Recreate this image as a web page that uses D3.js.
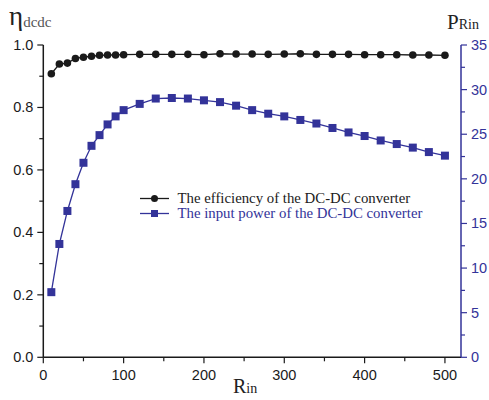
<!DOCTYPE html>
<html><head><meta charset="utf-8">
<script src="https://cdn.jsdelivr.net/npm/d3@7"></script>
<style>body{margin:0;background:#fff}svg{display:block}</style>
</head><body><svg id="c" width="489" height="400"></svg>
<script>
const rin = [10,20,30,40,50,60,70,80,90,100,120,140,160,180,200,220,240,260,280,300,320,340,360,380,400,420,440,460,480,500];
const efficiency = [0.908,0.939,0.942,0.957,0.961,0.964,0.967,0.968,0.968,0.969,0.970,0.970,0.970,0.970,0.969,0.972,0.971,0.971,0.970,0.971,0.972,0.970,0.970,0.970,0.969,0.969,0.969,0.968,0.968,0.967];
const inputPower = [7.3,12.7,16.4,19.4,21.8,23.7,24.9,26.1,27.0,27.7,28.4,29.0,29.06,29.0,28.8,28.6,28.2,27.7,27.3,27.0,26.6,26.2,25.7,25.2,24.8,24.3,23.9,23.5,23.0,22.6];
const xTicks = [0,100,200,300,400,500];
const leftTicks = [0.0,0.2,0.4,0.6,0.8,1.0];
const rightTicks = [0,5,10,15,20,25,30,35];
const legendLabels = ["The efficiency of the DC-DC converter","The input power of the DC-DC converter"];

const svg = d3.select("#c");
const blue = "#333399", black = "#1a1a1a";
const x = d3.scaleLinear().domain([0,520]).range([43.3,461]);
const yL = d3.scaleLinear().domain([0,1]).range([357.3,45]);
const yR = d3.scaleLinear().domain([0,35]).range([357.3,45]);
const tickFont = "'Liberation Sans', Arial, sans-serif";

// x axis
const gx = svg.append("g").attr("transform","translate(0,357.3)");
gx.append("line").attr("x1",x(0)).attr("x2",x(520)).attr("stroke",black).attr("stroke-width",1.5);
d3.range(0,520,50).forEach(v=>{
  const major = v%100===0;
  gx.append("line").attr("x1",x(v)).attr("x2",x(v)).attr("y1",0).attr("y2",major?6:4).attr("stroke",black).attr("stroke-width",1.2);
});
xTicks.forEach(v=>gx.append("text").attr("x",x(v)).attr("y",23).attr("text-anchor","middle")
  .attr("font-family",tickFont).attr("font-size",14.5).attr("fill",black).text(v));

// left axis
const gl = svg.append("g").attr("transform",`translate(${x(0)},0)`);
gl.append("line").attr("y1",yL(0)).attr("y2",yL(1)).attr("stroke",black).attr("stroke-width",1.5);
d3.range(0,1.01,0.1).forEach((v,i)=>{
  const major = i%2===0;
  gl.append("line").attr("x1",0).attr("x2",major?-6:-4).attr("y1",yL(v)).attr("y2",yL(v)).attr("stroke",black).attr("stroke-width",1.2);
});
leftTicks.forEach(v=>gl.append("text").attr("x",-10).attr("y",yL(v)+5).attr("text-anchor","end")
  .attr("font-family",tickFont).attr("font-size",14.5).attr("fill",black).text(v.toFixed(1)));

// right axis
const gr = svg.append("g").attr("transform",`translate(${x(520)},0)`);
gr.append("line").attr("y1",yR(0)).attr("y2",yR(35)).attr("stroke",blue).attr("stroke-width",1.5);
d3.range(0,35.1,2.5).forEach((v,i)=>{
  const major = i%2===0;
  gr.append("line").attr("x1",0).attr("x2",major?6:4).attr("y1",yR(v)).attr("y2",yR(v)).attr("stroke",blue).attr("stroke-width",1.2);
});
rightTicks.forEach(v=>gr.append("text").attr("x",10).attr("y",yR(v)+5).attr("text-anchor","start")
  .attr("font-family",tickFont).attr("font-size",14.5).attr("fill",blue).text(v));

// titles
const serif = "'Liberation Serif', 'Times New Roman', serif";
const t1 = svg.append("text").attr("x",9).attr("y",25).attr("font-family",serif).attr("fill","#222");
t1.append("tspan").attr("font-size",27).text("η");
t1.append("tspan").attr("font-size",15).attr("dy",2).attr("fill","#555").text("dcdc");
const t2 = svg.append("text").attr("x",447).attr("y",29).attr("font-family",serif).attr("fill","#222");
t2.append("tspan").attr("font-size",21).text("P");
t2.append("tspan").attr("font-size",14).text("Rin");
const t3 = svg.append("text").attr("x",233).attr("y",393).attr("font-family",serif).attr("fill","#222");
t3.append("tspan").attr("font-size",20).text("R");
t3.append("tspan").attr("font-size",14).text("in");

// series
const effData = rin.map((r,i)=>[r,efficiency[i]]);
const powData = rin.map((r,i)=>[r,inputPower[i]]);
svg.append("path").datum(effData).attr("fill","none").attr("stroke",black).attr("stroke-width",1.3)
  .attr("d",d3.line().x(d=>x(d[0])).y(d=>yL(d[1])));
svg.append("path").datum(powData).attr("fill","none").attr("stroke",blue).attr("stroke-width",1.3)
  .attr("d",d3.line().x(d=>x(d[0])).y(d=>yR(d[1])));
svg.selectAll(".pt").data(effData).enter().append("circle").attr("cx",d=>x(d[0])).attr("cy",d=>yL(d[1]))
  .attr("r",3.8).attr("fill",black);
svg.selectAll(".sq").data(powData).enter().append("rect").attr("x",d=>x(d[0])-4).attr("y",d=>yR(d[1])-4)
  .attr("width",8).attr("height",8).attr("fill",blue);

// legend
const lg = svg.append("g");
[[black,"circle"],[blue,"rect"]].forEach((s,i)=>{
  const yy = 198.5 + i*15;
  lg.append("line").attr("x1",140).attr("x2",169).attr("y1",yy).attr("y2",yy).attr("stroke",s[0]).attr("stroke-width",1.3);
  if(s[1]==="circle") lg.append("circle").attr("cx",154.5).attr("cy",yy).attr("r",3.5).attr("fill",s[0]);
  else lg.append("rect").attr("x",151).attr("y",yy-3.5).attr("width",7).attr("height",7).attr("fill",s[0]);
  lg.append("text").attr("x",177.5).attr("y",yy+4.5).attr("font-family",serif).attr("font-size",14.8)
    .attr("fill",s[0]).text(legendLabels[i]);
});
</script></body></html>
